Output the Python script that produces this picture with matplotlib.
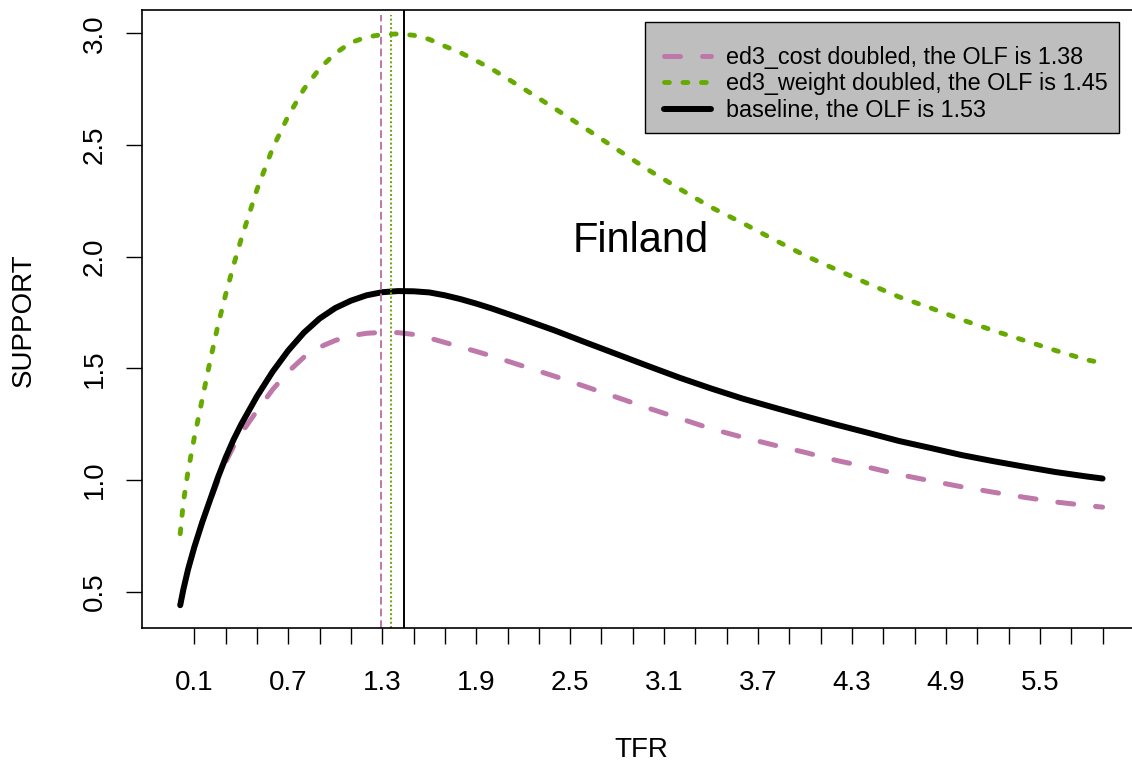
import numpy as np
import matplotlib.pyplot as plt
from matplotlib.patches import Rectangle

plt.rcParams['font.family'] = ['Liberation Sans', 'DejaVu Sans']

# values
tfr = [0.01, 0.03, 0.06, 0.1, 0.15, 0.2, 0.25, 0.3, 0.35, 0.4, 0.5, 0.6, 0.7, 0.8,
       0.9, 1.0, 1.1, 1.2, 1.3, 1.4, 1.5, 1.6, 1.7, 1.8, 1.9, 2.0, 2.2, 2.4, 2.6,
       2.8, 3.0, 3.2, 3.4, 3.6, 3.8, 4.0, 4.2, 4.4, 4.6, 4.8, 5.0, 5.2, 5.4, 5.6,
       5.8, 5.9]

baseline = [0.44, 0.51, 0.60, 0.70, 0.81, 0.91, 1.01, 1.10, 1.18, 1.25, 1.375,
            1.485, 1.58, 1.66, 1.723, 1.77, 1.803, 1.827, 1.841, 1.846, 1.845,
            1.84, 1.827, 1.81, 1.79, 1.768, 1.72, 1.67, 1.616, 1.563, 1.51,
            1.458, 1.41, 1.365, 1.325, 1.286, 1.248, 1.212, 1.175, 1.144,
            1.112, 1.085, 1.06, 1.036, 1.016, 1.007]

cost_doubled = [0.44, 0.51, 0.60, 0.70, 0.81, 0.905, 0.995, 1.08, 1.15, 1.21,
                1.31, 1.405, 1.485, 1.55, 1.595, 1.625, 1.646, 1.657, 1.661, 1.66,
                1.652, 1.636, 1.616, 1.596, 1.576, 1.555, 1.51, 1.465, 1.418,
                1.37, 1.322, 1.276, 1.23, 1.192, 1.157, 1.124, 1.088, 1.058,
                1.025, 0.997, 0.97, 0.946, 0.923, 0.902, 0.886, 0.879]

weight_doubled = [0.76, 0.90, 1.04, 1.19, 1.36, 1.53, 1.69, 1.83, 1.96, 2.08,
                  2.30, 2.485, 2.63, 2.75, 2.842, 2.91, 2.958, 2.983, 2.994,
                  2.997, 2.991, 2.973, 2.942, 2.913, 2.877, 2.84, 2.753, 2.664,
                  2.573, 2.48, 2.388, 2.303, 2.221, 2.151, 2.077, 2.005, 1.942,
                  1.88, 1.82, 1.771, 1.718, 1.67, 1.625, 1.58, 1.538, 1.524]

olf_cost = 1.29
olf_weight = 1.355
olf_base = 1.44

labels = ['ed3_cost doubled, the OLF is 1.38',
          'ed3_weight doubled, the OLF is 1.45',
          'baseline, the OLF is 1.53']

x_ticks = [round(0.1 + 0.2 * i, 1) for i in range(30)]
x_ticklabels = [str(v) if i % 3 == 0 else '' for i, v in enumerate(x_ticks)]
y_ticks = [0.5, 1.0, 1.5, 2.0, 2.5, 3.0]

purple = '#BE78AA'
green = '#66AA00'

fig = plt.figure(figsize=(11.32, 7.65), dpi=100)
ax = fig.add_axes([142 / 1132, 137 / 765, 998 / 1132, 618 / 765])

l1, = ax.plot(tfr, cost_doubled, color=purple, lw=3.6, dashes=(3.2, 4.4),
              dash_capstyle='round', solid_capstyle='round')
l2, = ax.plot(tfr, weight_doubled, color=green, lw=3.5, dashes=(1.0, 2.8),
              dash_capstyle='round')
l3, = ax.plot(tfr, baseline, color='black', lw=4.3, solid_capstyle='round')

ax.axvline(olf_cost, ymax=0.992, color=purple, lw=1.4, dashes=(4, 2))
ax.axvline(olf_weight, ymax=0.992, color=green, lw=1.4, dashes=(1, 1.2))
ax.axvline(olf_base, color='black', lw=1.4)

ax.text(2.948, 2.023, 'Finland', fontsize=30, ha='center', va='baseline')

ax.set_xlim(-0.234, 6.139)
ax.set_ylim(0.338, 3.104)
ax.set_xticks(x_ticks)
ax.set_xticklabels(x_ticklabels)
ax.set_yticks(y_ticks)
ax.set_yticklabels([f'{v:.1f}' for v in y_ticks], rotation=90, va='center')
ax.tick_params(axis='both', direction='out', length=11.5, width=1.0,
               labelsize=20, color='black')
ax.tick_params(axis='x', pad=19)
ax.tick_params(axis='y', pad=13)
for s in ax.spines.values():
    s.set_linewidth(1.2)
ax.spines['right'].set_visible(False)

ax.set_xlabel('TFR', fontsize=20)
ax.set_ylabel('SUPPORT', fontsize=20)
ax.xaxis.set_label_coords(0.5, -0.197)
ax.xaxis.label.set_va('center')
ax.yaxis.set_label_coords(-0.118, 0.498)
ax.yaxis.label.set_va('center')

# grey legend box, R style
box = Rectangle((0.504, 0.801), 0.475, 0.180, transform=ax.transAxes,
                facecolor='#BEBEBE', edgecolor='black', lw=1.0, zorder=4)
ax.add_patch(box)
leg = ax.legend([l1, l2, l3], labels, loc='upper left',
                bbox_to_anchor=(0.523, 0.942), fontsize=16.8, frameon=False,
                borderpad=0, labelspacing=0.15, handlelength=2.0,
                handletextpad=0.65, borderaxespad=0)
leg.set_zorder(5)

fig.savefig('out.png', dpi=100)
